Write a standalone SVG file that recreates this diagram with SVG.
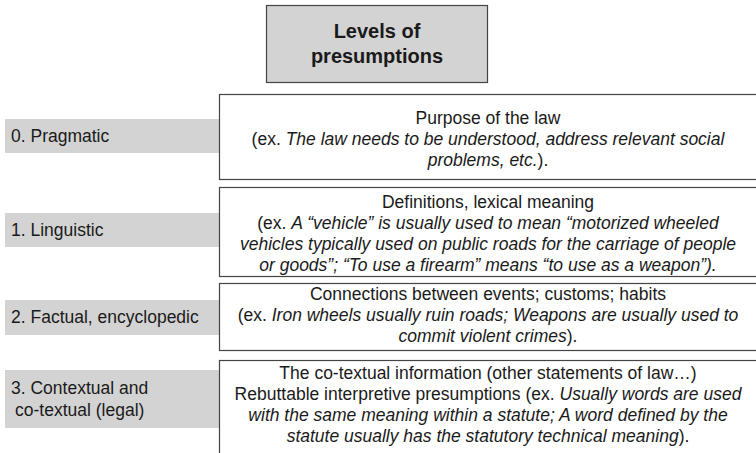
<svg xmlns="http://www.w3.org/2000/svg" width="756" height="453" viewBox="0 0 756 453">
<style>
text{font-family:"Liberation Sans",Arial,sans-serif;fill:#1a1a1a}
.t{font-size:20px;font-weight:bold;text-anchor:middle}
.b{font-size:17.5px;text-anchor:middle}
.l{font-size:17.5px}
.g{fill:#d3d3d3}
.box{fill:#fff;stroke:#444;stroke-width:1.2}
.title{fill:#d3d3d3;stroke:#444;stroke-width:1.2}
</style>
<g id="title">
<rect class="title" x="266.5" y="5.5" width="221" height="77"/>
<text class="t" x="377" y="38">Levels of</text>
<text class="t" x="377" y="63">presumptions</text>
</g>
<g id="level0">
<rect class="g" x="5" y="119" width="214" height="34"/>
<text class="l" x="11" y="142">0. Pragmatic</text>
<rect class="box" x="219.5" y="94.5" width="545" height="85"/>
<text class="b" x="488" y="124">Purpose of the law</text>
<text class="b" x="488" y="145">(ex. <tspan font-style="italic">The law needs to be understood, address relevant social</tspan></text>
<text class="b" x="488" y="166"><tspan font-style="italic">problems, etc.</tspan>).</text>
</g>
<g id="level1">
<rect class="g" x="5" y="213" width="214" height="34"/>
<text class="l" x="11" y="236">1. Linguistic</text>
<rect class="box" x="219.5" y="187.5" width="545" height="89"/>
<text class="b" x="488" y="208">Definitions, lexical meaning</text>
<text class="b" x="488" y="229">(ex. <tspan font-style="italic">A “vehicle” is usually used to mean “motorized wheeled</tspan></text>
<text class="b" x="488" y="250" font-style="italic">vehicles typically used on public roads for the carriage of people</text>
<text class="b" x="488" y="271" font-style="italic">or goods”; “To use a firearm” means “to use as a weapon”).</text>
</g>
<g id="level2">
<rect class="g" x="5" y="300" width="214" height="35"/>
<text class="l" x="11" y="323">2. Factual, encyclopedic</text>
<rect class="box" x="219.5" y="283.5" width="545" height="67"/>
<text class="b" x="488" y="300">Connections between events; customs; habits</text>
<text class="b" x="488" y="321">(ex. <tspan font-style="italic">Iron wheels usually ruin roads; Weapons are usually used to</tspan></text>
<text class="b" x="488" y="342"><tspan font-style="italic">commit violent crimes</tspan>).</text>
</g>
<g id="level3">
<rect class="g" x="5" y="370" width="214" height="58"/>
<text class="l" x="11" y="394">3. Contextual and</text>
<text class="l" x="15" y="416">co-textual (legal)</text>
<rect class="box" x="219.5" y="360.5" width="545" height="110"/>
<text class="b" x="488" y="379">The co-textual information (other statements of law…)</text>
<text class="b" x="488" y="400">Rebuttable interpretive presumptions (ex. <tspan font-style="italic">Usually words are used</tspan></text>
<text class="b" x="488" y="421" font-style="italic">with the same meaning within a statute; A word defined by the</text>
<text class="b" x="488" y="442"><tspan font-style="italic">statute usually has the statutory technical meaning</tspan>).</text>
</g>
<g id="connectors"></g>
</svg>
